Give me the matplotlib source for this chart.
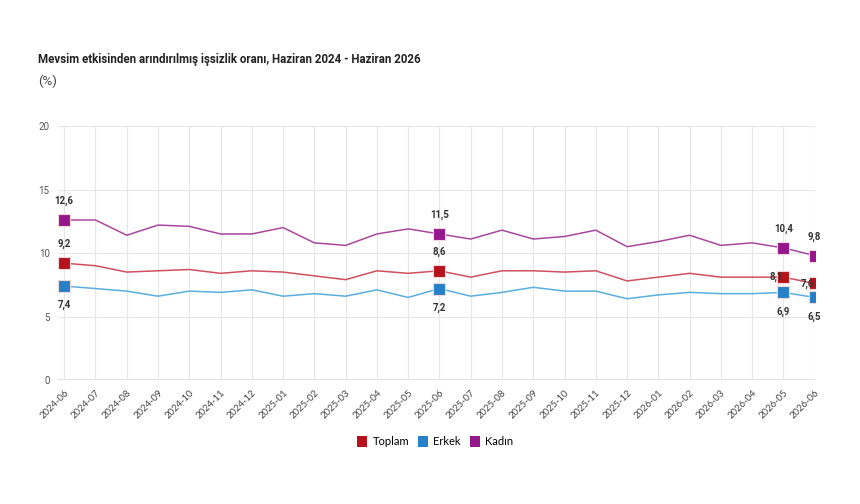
import numpy as np
import matplotlib.pyplot as plt
from matplotlib.patches import Patch

# months 2024-06 .. 2026-06
months = ['2024-06', '2024-07', '2024-08', '2024-09', '2024-10', '2024-11', '2024-12',
          '2025-01', '2025-02', '2025-03', '2025-04', '2025-05', '2025-06', '2025-07',
          '2025-08', '2025-09', '2025-10', '2025-11', '2025-12', '2026-01', '2026-02',
          '2026-03', '2026-04', '2026-05', '2026-06']

toplam = [9.2, 9.0, 8.5, 8.6, 8.7, 8.4, 8.6, 8.5, 8.2, 7.9, 8.6, 8.4, 8.6,
          8.1, 8.6, 8.6, 8.5, 8.6, 7.8, 8.1, 8.4, 8.1, 8.1, 8.1, 7.6]
erkek = [7.4, 7.2, 7.0, 6.6, 7.0, 6.9, 7.1, 6.6, 6.8, 6.6, 7.1, 6.5, 7.2,
         6.6, 6.9, 7.3, 7.0, 7.0, 6.4, 6.7, 6.9, 6.8, 6.8, 6.9, 6.5]
kadin = [12.6, 12.6, 11.4, 12.2, 12.1, 11.5, 11.5, 12.0, 10.8, 10.6, 11.5, 11.9, 11.5,
         11.1, 11.8, 11.1, 11.3, 11.8, 10.5, 10.9, 11.4, 10.6, 10.8, 10.4, 9.8]

marked = [0, 12, 23, 24]

fig = plt.figure(figsize=(8.6, 5.04), dpi=100)
ax = fig.add_axes([0.0674, 0.246, 0.8806, 0.504])

x = np.arange(len(months))

series = [
    ('Toplam', toplam, '#d0505f', '#b5121b'),
    ('Erkek', erkek, '#5aaee0', '#2680c8'),
    ('Kadın', kadin, '#a8489c', '#96168c'),
]

for name, vals, lc, mc in series:
    ax.plot(x, vals, color=lc, lw=1.1, zorder=3)
    ax.plot(x[marked], np.array(vals)[marked], ls='none', marker='s', ms=9,
            mfc=mc, mec='#f0d8d8', mew=0.8, zorder=4)

lbl = dict(fontsize=7, fontweight='bold', color='#333333', ha='center', family='Roboto')

def fmt(v):
    return f'{v:.1f}'.replace('.', ',')

for i in marked:
    ax.annotate(fmt(kadin[i]), (x[i], kadin[i]), xytext=(0, 10), textcoords='offset points',
                va='bottom', **lbl)
    ax.annotate(fmt(erkek[i]), (x[i], erkek[i]), xytext=(0, -10), textcoords='offset points',
                va='top', **lbl)
for i in [0, 12]:
    ax.annotate(fmt(toplam[i]), (x[i], toplam[i]), xytext=(0, 10), textcoords='offset points',
                va='bottom', **lbl)
ax.annotate(fmt(toplam[23]), (x[23], toplam[23]), xytext=(-5, 0), textcoords='offset points',
            va='center', zorder=5, **lbl)
ax.annotate(fmt(toplam[24]), (x[24], toplam[24]), xytext=(-5, 0), textcoords='offset points',
            va='center', zorder=5, **lbl)

ax.set_xlim(-0.2, 24.02)
ax.set_ylim(0, 20)
ax.set_yticks([0, 5, 10, 15, 20])
ax.set_xticks(x)
ax.set_xticklabels(months, rotation=45, ha='right', rotation_mode='anchor',
                   fontsize=6.8, color='#444444', family='Lato')
for t in ax.get_yticklabels():
    t.set_fontsize(7)
    t.set_color('#555555')
    t.set_family('Roboto')
ax.tick_params(axis='both', length=0, pad=6)
ax.grid(True, color='#e6e6e6', lw=0.8, zorder=0)
ax.axhline(0, color='#dcdcdc', lw=1.2, zorder=1)
for s in ax.spines.values():
    s.set_visible(False)

fig.text(0.044, 0.881, 'Mevsim etkisinden arındırılmış işsizlik oranı, Haziran 2024 - Haziran 2026',
         fontsize=8.3, fontweight='bold', family='Roboto', color='#222222', va='center')
fig.text(0.044, 0.839, '(%)', fontsize=9.5, family='Roboto', color='#444444', va='center')

handles = [Patch(facecolor=mc, edgecolor='none', label=name) for name, _, _, mc in series]
fig.legend(handles=handles, loc='center', bbox_to_anchor=(0.506, 0.124), ncol=3,
           frameon=False, handlelength=0.9, handleheight=1.2, handletextpad=0.5,
           columnspacing=0.8, prop={'family': 'Lato', 'size': 8})

fig.savefig('out.png', dpi=100, facecolor='white')
